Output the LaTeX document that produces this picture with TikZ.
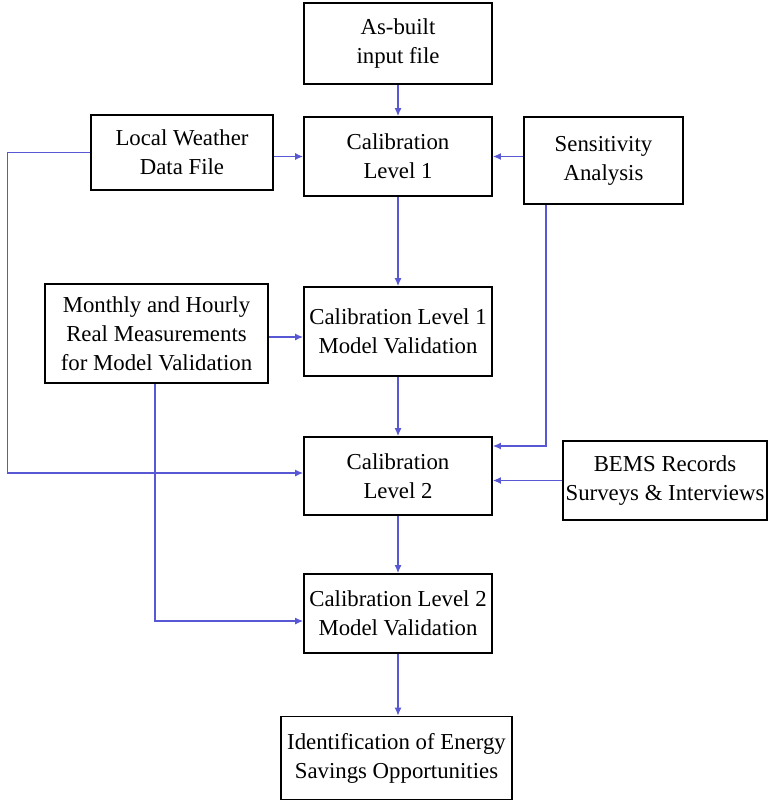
\documentclass[tikz,border=0pt]{standalone}
\usepackage{fontspec}
\setmainfont{Liberation Serif}
\usetikzlibrary{arrows.meta}
\definecolor{flowblue}{RGB}{88,88,212}
\begin{document}
\begin{tikzpicture}[x=1pt,y=-1pt,
    box/.style={draw,line width=1.9pt,align=center,inner sep=0pt,
      font=\fontsize{22.8}{29}\selectfont},
    flow/.style={draw=flowblue,line width=1.1pt,-{Latex[length=8pt,width=7pt]}}]
    \useasboundingbox (0,0) rectangle (769,802);
    % Boxes
    \node[box,minimum width=188pt,minimum height=81pt] (asbuilt) at (398,43.5) {As-built\\input file};
    \node[box,minimum width=182pt,minimum height=75pt] (weather) at (182,152.5) {Local Weather\\Data File};
    \node[box,minimum width=188pt,minimum height=79pt] (cal1) at (398,156.5) {Calibration\\Level 1};
    \node[box,minimum width=159pt,minimum height=87pt] (sens) at (603.5,160.5) {Sensitivity\\Analysis};
    \node[box,minimum width=223pt,minimum height=99pt] (meas) at (156.5,333.5) {Monthly and Hourly\\Real Measurements\\for Model Validation};
    \node[box,minimum width=188pt,minimum height=89pt] (cal1val) at (398,331.5) {Calibration Level 1\\Model Validation};
    \node[box,minimum width=188pt,minimum height=78pt] (cal2) at (398,476) {Calibration\\Level 2};
    \node[box,minimum width=204pt,minimum height=79pt] (bems) at (665,480.5) {BEMS Records\\Surveys \& Interviews};
    \node[box,minimum width=188pt,minimum height=79pt] (cal2val) at (398,613.5) {Calibration Level 2\\Model Validation};
    \node[box,minimum width=231pt,minimum height=83pt] (ident) at (396.5,758) {Identification of Energy\\Savings Opportunities};
    % Connectors
    \draw[flow] (asbuilt.south) -- (asbuilt.south |- cal1.north);
    \draw[flow] (weather.east |- cal1) -- (cal1.west);
    \draw[flow] (sens.west |- cal1) -- (cal1.east);
    \draw[flow] (weather.west) -- ++(-83,0) |- ([yshift=3pt]cal2.west);
    \draw[flow] ([xshift=-57.5pt]sens.south) |- ([yshift=30pt]cal2.east);
    \draw[flow] (bems.west) -- (bems.west -| cal2.east);
    \draw[flow] (cal1.south) -- (cal1val.north);
    \draw[flow] ([yshift=-3.5pt]meas.east) -- ([yshift=-3.5pt]meas.east -| cal1val.west);
    \draw[flow] ([xshift=-1.5pt]meas.south) |- ([yshift=-7.5pt]cal2val.west);
    \draw[flow] (cal1val.south) -- (cal2.north);
    \draw[flow] (cal2.south) -- (cal2val.north);
    \draw[flow] (cal2val.south) -- (cal2val.south |- ident.north);
\end{tikzpicture}
\end{document}
